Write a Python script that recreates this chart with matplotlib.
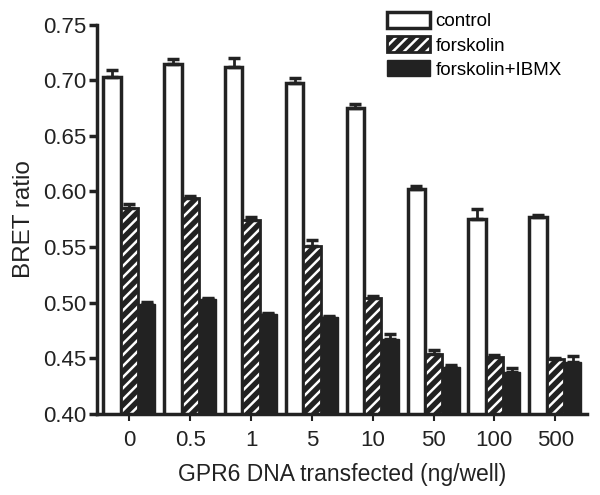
import matplotlib.pyplot as plt
import numpy as np
from matplotlib.legend_handler import HandlerTuple
from matplotlib.patches import Patch

plt.rcParams['font.family'] = ['Liberation Sans', 'DejaVu Sans']
plt.rcParams['hatch.linewidth'] = 1.8

doses = ['0', '0.5', '1', '5', '10', '50', '100', '500']
control = [0.703, 0.715, 0.712, 0.698, 0.675, 0.602, 0.575, 0.577]
control_err = [0.006, 0.004, 0.008, 0.004, 0.004, 0.003, 0.009, 0.002]
forskolin = [0.585, 0.594, 0.574, 0.551, 0.504, 0.454, 0.451, 0.449]
forskolin_err = [0.004, 0.002, 0.003, 0.005, 0.002, 0.003, 0.002, 0.001]
ibmx = [0.499, 0.503, 0.490, 0.487, 0.467, 0.442, 0.438, 0.447]
ibmx_err = [0.002, 0.001, 0.001, 0.001, 0.005, 0.002, 0.003, 0.005]

dark = '#222222'
x = np.arange(len(doses))
w = 0.285

fig = plt.figure(figsize=(6, 4.95), dpi=100)
ax = fig.add_axes([0.162, 0.164, 0.816, 0.786])

errkw = dict(ecolor=dark, capsize=4, elinewidth=2, capthick=2.5)

ax.bar(x - w, control, w, color='white', edgecolor=dark, linewidth=2.5,
       yerr=[np.zeros(len(x)), control_err], error_kw=errkw, zorder=2)
# hatched bars: dark face with white stripes, then a dark outline
ax.bar(x, forskolin, w, color=dark, edgecolor='white', hatch='///', linewidth=0, zorder=2)
ax.bar(x, forskolin, w, color='none', edgecolor=dark, linewidth=2,
       yerr=[np.zeros(len(x)), forskolin_err], error_kw=errkw, zorder=3)
ax.bar(x + w, ibmx, w, color=dark, edgecolor=dark, linewidth=1,
       yerr=[np.zeros(len(x)), ibmx_err], error_kw=errkw, zorder=2)

ax.set_ylim(0.40, 0.75)
ax.set_xlim(-0.53, 7.52)
ax.set_yticks(np.arange(0.40, 0.751, 0.05))
ax.set_yticklabels(['%.2f' % v for v in np.arange(0.40, 0.751, 0.05)])
ax.set_xticks(x)
ax.set_xticklabels(doses)

for s in ['top', 'right']:
    ax.spines[s].set_visible(False)
for s in ['left', 'bottom']:
    ax.spines[s].set_linewidth(2.5)
    ax.spines[s].set_color(dark)
ax.tick_params(axis='y', length=6, width=2.5, labelsize=16, pad=2, colors=dark)
ax.tick_params(axis='x', length=5, width=1.5, labelsize=16, pad=7, colors=dark)

ax.set_ylabel('BRET ratio', fontsize=17.5, color=dark, labelpad=6)
ax.set_xlabel('GPR6 DNA transfected (ng/well)', fontsize=16.5, color=dark, labelpad=8)

h1 = Patch(facecolor='white', edgecolor=dark, linewidth=2.5)
h2a = Patch(facecolor=dark, edgecolor='white', hatch='///', linewidth=0)
h2b = Patch(facecolor='none', edgecolor=dark, linewidth=2)
h3 = Patch(facecolor=dark, edgecolor=dark)
fig.legend([h1, (h2a, h2b), h3], ['control', 'forskolin', 'forskolin+IBMX'],
           handler_map={tuple: HandlerTuple(ndivide=1)},
           loc='upper left', bbox_to_anchor=(0.645, 0.976), frameon=False,
           fontsize=13.5, handlelength=2.3, handleheight=0.95,
           labelspacing=0.3, handletextpad=0.3, borderpad=0, borderaxespad=0)

fig.savefig('out.png', dpi=100)
